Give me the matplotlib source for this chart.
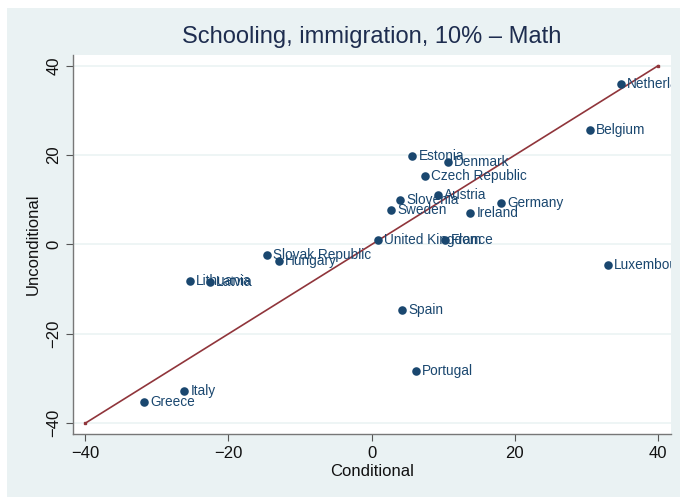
import matplotlib.pyplot as plt
from matplotlib.patches import Rectangle

plt.rcParams['font.family'] = ['Liberation Sans', 'DejaVu Sans']

countries = ["Netherlands", "Belgium", "Estonia", "Denmark", "Czech Republic",
             "Austria", "Slovenia", "Germany", "Sweden", "Ireland",
             "United Kingdom", "France", "Slovak Republic", "Hungary",
             "Lithuania", "Latvia", "Luxembourg", "Spain", "Portugal",
             "Italy", "Greece"]
conditional = [34.8, 30.5, 5.7, 10.6, 7.4, 9.2, 4.0, 18.1, 2.7, 13.8,
               0.9, 10.2, -14.6, -13.0, -25.4, -22.6, 33.0, 4.3, 6.2,
               -26.2, -31.8]
unconditional = [36.0, 25.7, 19.9, 18.4, 15.3, 11.0, 9.9, 9.2, 7.8, 7.0,
                 1.0, 1.0, -2.4, -3.6, -8.1, -8.4, -4.5, -14.6, -28.2,
                 -32.7, -35.2]
diag = [-40, 40]
ticks = [-40, -20, 0, 20, 40]

bg = '#eaf2f3'
navy = '#1a476f'
maroon = '#90353b'

fig = plt.figure(figsize=(6.8, 4.97), dpi=100)
fig.patch.set_facecolor('white')
fig.patches.append(Rectangle((7 / 680, 0), 1, 1 - 8 / 497, transform=fig.transFigure,
                             facecolor=bg, edgecolor='none', zorder=-10))

ax = fig.add_axes([73 / 680, 1 - 434 / 497, (671 - 73) / 680, (434 - 55) / 497])
ax.set_facecolor('white')

for t in ticks:
    ax.axhline(t, color=bg, lw=1.1, zorder=0)

ax.plot(diag, diag, color=maroon, lw=1.2, marker='s', markersize=2, zorder=2)
ax.scatter(conditional, unconditional, s=38, color=navy, zorder=3, linewidths=0)

# country names to the right of each dot, cut at the plot edge
for name, x, y in zip(countries, conditional, unconditional):
    ax.annotate(name, (x, y), xytext=(4.5, 0), textcoords='offset points',
                va='center', ha='left', fontsize=9.8, color=navy,
                clip_on=True, zorder=4)

ax.set_xlim(-41.7, 41.8)
ax.set_ylim(-42.4, 42.4)
ax.set_xticks(ticks)
ax.set_yticks(ticks)
ax.set_xticklabels(['\u221240', '\u221220', '0', '20', '40'])
ax.set_yticklabels(['\u221240', '\u221220', '0', '20', '40'], rotation=90, va='center')
ax.tick_params(labelsize=12, color='#555555', length=5, width=0.8, labelcolor='#111111')

for side in ['top', 'right']:
    ax.spines[side].set_visible(False)
for side in ['left', 'bottom']:
    ax.spines[side].set_color('#777777')
    ax.spines[side].set_linewidth(1.0)

ax.set_xlabel('Conditional', fontsize=12, color='#111111', labelpad=2)
ax.set_ylabel('Unconditional', fontsize=12, color='#111111', labelpad=4)
ax.set_title('Schooling, immigration, 10% \u2013 Math', fontsize=17,
             color='#1e2d4f', pad=9)

fig.savefig('out.png', dpi=100)
